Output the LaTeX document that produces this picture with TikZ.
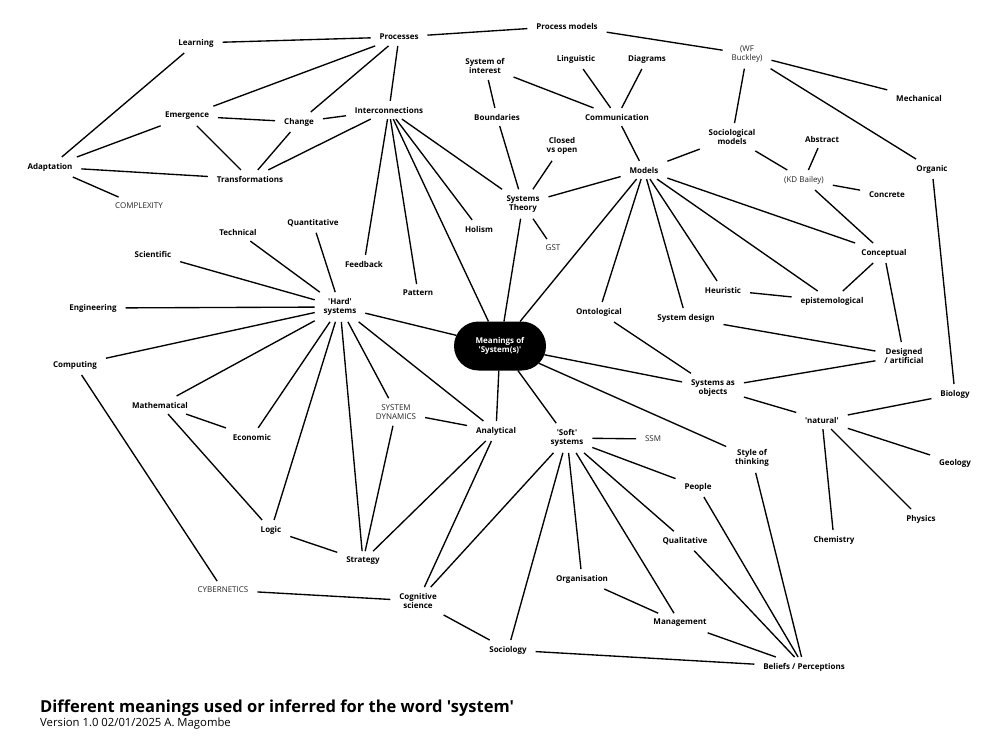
\documentclass[tikz,border=0pt]{standalone}
\usepackage{fontspec}
\newfontfamily\labfont{Open Sans}[Ligatures=TeXOff]
\usetikzlibrary{shapes.misc}
\tikzset{
  lab/.style={font=\labfont\bfseries\fontsize{8}{9.7}\selectfont, align=center, inner xsep=5.5pt, inner ysep=2.5pt, outer sep=3.5pt},
  reg/.style={font=\labfont\fontsize{8}{9.7}\selectfont, text=black!85, align=center, inner xsep=5.5pt, inner ysep=2.5pt, outer sep=3.5pt},
  core/.style={rounded rectangle, fill=black, text=white, font=\labfont\bfseries\fontsize{8}{9.7}\selectfont, align=center, minimum width=96pt, minimum height=49pt, inner sep=2pt, outer sep=0pt},
  link/.style={line width=1.35pt}
}
\begin{document}
\begin{tikzpicture}[x=1pt,y=-1pt]
\fill[white] (0,0) rectangle (1000,747);
\useasboundingbox (0,0) rectangle (1000,747);
\node[lab] (proc) at (399,37) {Processes};
\node[lab] (learn) at (196,43) {Learning};
\node[lab] (emerg) at (187,116) {Emergence};
\node[lab] (change) at (299,122) {Change};
\node[lab] (inter) at (389,110) {Interconnections};
\node[lab] (adapt) at (50,167) {Adaptation};
\node[lab] (trans) at (250,179) {Transformations};
\node[reg] (complex) at (139,206) {COMPLEXITY};
\node[lab] (soi) at (485,66) {System of\\interest};
\node[lab] (bound) at (497,117) {Boundaries};
\node[lab] (quant) at (313,223) {Quantitative};
\node[lab] (tech) at (238,232) {Technical};
\node[lab] (holism) at (479,229) {Holism};
\node[lab] (pmodels) at (567,26) {Process models};
\node[reg] (buckley) at (747,54) {(WF\\Buckley)};
\node[lab] (ling) at (576,59) {Linguistic};
\node[lab] (diag) at (647,59) {Diagrams};
\node[lab] (comm) at (617,117) {Communication};
\node[lab] (mech) at (919,98) {Mechanical};
\node[lab] (closed) at (562,146) {Closed\\vs open};
\node[lab] (socmod) at (732,137) {Sociological\\models};
\node[lab] (abstract) at (822,139) {Abstract};
\node[lab] (models) at (644,170) {Models};
\node[reg] (bailey) at (804,180) {(KD Bailey)};
\node[lab] (organic) at (932,169) {Organic};
\node[lab] (concrete) at (887,195) {Concrete};
\node[lab] (systheory) at (523,204) {Systems\\Theory};
\node[reg] (gst) at (553,248) {GST};
\node[lab] (sci) at (153,254) {Scientific};
\node[lab] (eng) at (93,308) {Engineering};
\node[lab] (hard) at (340,307) {'Hard'\\systems};
\node[lab] (feedback) at (364,264) {Feedback};
\node[lab] (pattern) at (418,293) {Pattern};
\node[lab] (comp) at (75,365) {Computing};
\node[lab] (math) at (160,405) {Mathematical};
\node[lab] (econ) at (252,437) {Economic};
\node[reg] (sd) at (396,412) {SYSTEM\\DYNAMICS};
\node[core] (mean) at (500,346) {Meanings of\\'System(s)'};
\node[lab] (concept) at (884,253) {Conceptual};
\node[lab] (heur) at (723,290) {Heuristic};
\node[lab] (epist) at (832,301) {epistemological};
\node[lab] (onto) at (599,312) {Ontological};
\node[lab] (sysdes) at (686,318) {System design};
\node[lab] (designed) at (904,356) {Designed\\/ artificial};
\node[lab] (sysobj) at (713,388) {Systems as\\objects};
\node[lab] (bio) at (955,394) {Biology};
\node[lab] (natural) at (822,420) {'natural'};
\node[lab] (style) at (752,458) {Style of\\thinking};
\node[lab] (geo) at (955,463) {Geology};
\node[lab] (soft) at (567,438) {'Soft'\\systems};
\node[reg] (ssm) at (653,439) {SSM};
\node[lab] (anal) at (496,431) {Analytical};
\node[lab] (logic) at (271,530) {Logic};
\node[lab] (strat) at (363,561) {Strategy};
\node[reg] (cyber) at (223,590) {CYBERNETICS};
\node[lab] (cog) at (418,601) {Cognitive\\science};
\node[lab] (socio) at (508,650) {Sociology};
\node[lab] (people) at (698,487) {People};
\node[lab] (physics) at (921,519) {Physics};
\node[lab] (chem) at (834,540) {Chemistry};
\node[lab] (qual) at (685,541) {Qualitative};
\node[lab] (org) at (582,579) {Organisation};
\node[lab] (mgmt) at (680,623) {Management};
\node[lab] (beliefs) at (804,667) {Beliefs / Perceptions};
\foreach \a/\b in {learn/proc, learn/adapt, proc/emerg, proc/change, proc/inter, proc/pmodels,
  emerg/change, emerg/adapt, emerg/trans, change/inter, change/trans, inter/trans,
  adapt/trans, adapt/complex, inter/feedback, inter/pattern, inter/holism, inter/systheory, inter/mean,
  pmodels/buckley, buckley/mech, buckley/organic, buckley/socmod,
  soi/bound, soi/comm, ling/comm, diag/comm, comm/models,
  bound/systheory, closed/systheory, models/systheory, models/socmod,
  socmod/bailey, abstract/bailey, bailey/concrete, bailey/concept, organic/bio,
  systheory/gst, systheory/mean, models/mean, models/onto, models/sysdes, models/heur,
  models/epist, models/concept, concept/epist, concept/designed, heur/epist,
  sysdes/designed, designed/sysobj, onto/sysobj, mean/sysobj, mean/style,
  sysobj/natural, natural/bio, natural/geo, natural/physics, natural/chem,
  hard/quant, hard/tech, hard/sci, hard/eng, hard/comp, hard/math, hard/econ,
  hard/logic, hard/strat, hard/sd, hard/anal, hard/mean,
  math/econ, math/logic, comp/cyber, logic/strat, sd/strat, sd/anal,
  anal/strat, anal/cog, anal/mean, mean/soft,
  soft/ssm, soft/people, soft/qual, soft/mgmt, soft/org, soft/socio, soft/cog,
  cyber/cog, cog/socio, org/mgmt, mgmt/beliefs, socio/beliefs, qual/beliefs,
  people/beliefs, style/beliefs}
  \draw[link] (\a) -- (\b);
\node[anchor=base west, inner sep=0pt, font=\labfont\bfseries\fontsize{16.5}{20}\selectfont] (title) at (40,712) {Different meanings used or inferred for the word 'system'};
\node[anchor=base west, inner sep=0pt, font=\labfont\fontsize{11.3}{13}\selectfont] (sub) at (40,726.5) {Version 1.0 02/01/2025 A. Magombe};
\end{tikzpicture}
\end{document}
